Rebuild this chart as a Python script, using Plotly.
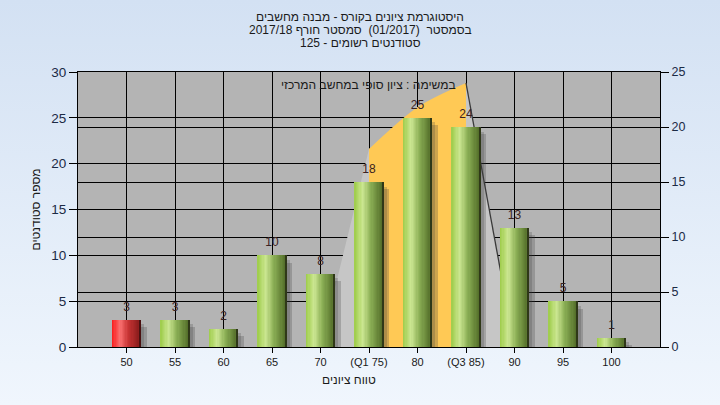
import base64
import plotly.graph_objects as go

# ---------------- data ----------------
categories = ["50", "55", "60", "65", "70", "(Q1 75)", "80", "(Q3 85)", "90", "95", "100"]
counts = [3, 3, 2, 10, 8, 18, 25, 24, 13, 5, 1]
bar_group = ["fail", "pass", "pass", "pass", "pass", "pass", "pass", "pass", "pass", "pass", "pass"]

# Q1..Q3 band drawn on the right-hand axis
band_categories = ["70", "(Q1 75)", "80", "(Q3 85)", "90"]
band_values = [0, 18, 21.8, 24, 0]

left_ticks = [0, 5, 10, 15, 20, 25, 30]
right_ticks = [0, 5, 10, 15, 20, 25]

title_lines = [
    "היסטוגרמת ציונים בקורס - מבנה מחשבים",
    "בסמסטר  (01/2017)  סמסטר חורף 2017/18",
    "סטודנטים רשומים - 125",
]
note_text = "במשימה : ציון סופי במחשב המרכזי"
x_title = "טווח ציונים"
y_title = "מספר סטודנטים"

# ---------------- helpers ----------------
RLE, PDF = "\u202b", "\u202c"


def rtl(s):
    return RLE + s + PDF


def interp(scale, t):
    for (t0, c0), (t1, c1) in zip(scale[:-1], scale[1:]):
        if t0 <= t <= t1:
            f = (t - t0) / (t1 - t0) if t1 > t0 else 0
            c = [round(a + (b - a) * f) for a, b in zip(c0, c1)]
            return "rgb(%d,%d,%d)" % tuple(c)
    return "rgb(%d,%d,%d)" % scale[-1][1]


green_scale = [(0.0, (158, 204, 74)), (0.28, (204, 231, 146)), (0.55, (140, 176, 86)), (1.0, (76, 102, 36))]
red_scale = [(0.0, (250, 28, 28)), (0.28, (250, 112, 112)), (0.55, (200, 52, 52)), (1.0, (128, 24, 24))]
edge_color = {"fail": "#4a1010", "pass": "#2f3818"}

pos = {c: i for i, c in enumerate(categories)}
xpos = [pos[c] for c in categories]
band_x = [pos[c] for c in band_categories]

fig = go.Figure()

# ---- band (base subplot, right axis 0..25) ----
fig.add_trace(go.Scatter(
    x=band_x, y=band_values, mode="lines", fill="toself",
    fillcolor="#c6c6c6", line=dict(width=0), hoverinfo="skip", showlegend=False,
))
fig.add_trace(go.Scatter(
    x=band_x[1:4], y=band_values[1:4], mode="lines", fill="tozeroy",
    fillcolor="#ffc955", line=dict(width=0, shape="spline", smoothing=0.9),
    hoverinfo="skip", showlegend=False,
))
fig.add_trace(go.Scatter(
    x=band_x[3:5], y=band_values[3:5], mode="lines",
    line=dict(width=1.3, color="#3a3a3a"), hoverinfo="skip", showlegend=False,
))

# ---- bar shadows (left axis 0..30) ----
for off, base, col in [(0.12, -0.8, "rgba(60,60,60,0.25)"), (0.07, -0.5, "rgba(60,60,60,0.22)")]:
    fig.add_trace(go.Bar(
        x=xpos, y=counts, base=base, offset=-0.3 + off, width=0.6,
        marker=dict(color=col, line=dict(width=0)), yaxis="y2",
        hoverinfo="skip", showlegend=False,
    ))

# ---- bars with horizontal gradient (stripes) ----
N = 24
W = 0.6 / N
for k in range(N):
    t = (k + 0.5) / N
    cols = [interp(red_scale, t) if g == "fail" else interp(green_scale, t) for g in bar_group]
    fig.add_trace(go.Bar(
        x=xpos, y=counts, offset=-0.3 + k * W, width=min(W * 1.7, 0.6 - k * W),
        marker=dict(color=cols, line=dict(width=0)), yaxis="y2",
        hoverinfo="skip", showlegend=False,
    ))
fig.add_trace(go.Bar(
    x=xpos, y=counts, offset=0.3 - 0.022, width=0.022,
    marker=dict(color=[edge_color[g] for g in bar_group], line=dict(width=0)), yaxis="y2",
    hoverinfo="skip", showlegend=False,
))

# ---- value labels (invisible marker gives a small gap above the bar) ----
fig.add_trace(go.Scatter(
    x=xpos, y=counts, mode="text+markers", text=[str(c) for c in counts],
    marker=dict(size=8, opacity=0),
    textposition="top center", textfont=dict(size=12, color="#3a2222"),
    yaxis="y2", cliponaxis=False, hoverinfo="skip", showlegend=False,
))

# ---------------- layout ----------------
L, R, T, B = 78, 60, 72, 58
PW, PH = 720 - L - R, 405 - T - B

svg = ('<svg xmlns="http://www.w3.org/2000/svg" width="720" height="405" preserveAspectRatio="none">'
       '<defs><linearGradient id="g" x1="0" y1="0" x2="0" y2="1">'
       '<stop offset="0" stop-color="#d3e1f3"/><stop offset="1" stop-color="#f0f6fd"/>'
       '</linearGradient></defs><rect width="720" height="405" fill="url(#g)"/></svg>')
bg_uri = "data:image/svg+xml;base64," + base64.b64encode(svg.encode()).decode()

font_main = "Liberation Sans, Arial, sans-serif"
axis_common = dict(
    showgrid=True, gridcolor="#000000", gridwidth=1, zeroline=False,
    showline=True, linecolor="#000000", linewidth=1,
    ticks="outside", tickcolor="#000000", ticklen=8,
)

annotations = []
for i, line in enumerate(title_lines):
    ypx = 17 + 13 * i
    annotations.append(dict(
        text=rtl(line), xref="paper", yref="paper", x=(360 - L) / PW, y=1 + (T - ypx) / PH,
        xanchor="center", yanchor="middle", showarrow=False,
        font=dict(size=12, color="#1a1a1a", family=font_main),
    ))
annotations.append(dict(
    text=rtl(note_text), xref="paper", yref="paper", x=(368 - L) / PW, y=1 - (85 - T) / PH,
    xanchor="center", yanchor="middle", showarrow=False,
    font=dict(size=12, color="#1a1a1a", family=font_main),
))
annotations.append(dict(
    text=rtl(x_title), xref="paper", yref="paper", x=(349 - L) / PW, y=1 - (380 - T) / PH,
    xanchor="center", yanchor="middle", showarrow=False,
    font=dict(size=12, color="#1a1a1a", family=font_main),
))
annotations.append(dict(
    text=rtl(y_title), xref="paper", yref="paper", x=(35 - L) / PW, y=0.5,
    xanchor="center", yanchor="middle", showarrow=False, textangle=-90,
    font=dict(size=12, color="#1a1a1a", family=font_main),
))

fig.update_layout(
    width=720, height=405,
    margin=dict(l=L, r=R, t=T, b=B),
    paper_bgcolor="#e2ecf8",
    plot_bgcolor="rgba(0,0,0,0)",
    barmode="overlay", bargap=0,
    showlegend=False,
    font=dict(family=font_main, color="#1b2a45"),
    images=[dict(
        source=bg_uri, xref="paper", yref="paper", x=-L / PW, y=1 + T / PH,
        sizex=720 / PW, sizey=405 / PH, xanchor="left", yanchor="top",
        sizing="stretch", layer="below",
    )],
    shapes=[dict(
        type="rect", xref="paper", yref="paper", x0=0, x1=1, y0=0, y1=1,
        fillcolor="#b4b4b4", line=dict(width=0), layer="below",
    )],
    xaxis=dict(
        range=[-1, len(categories)], tickmode="array", tickvals=xpos, ticktext=categories,
        mirror=True, tickfont=dict(size=11, color="#1a1a1a"),
        **{**axis_common, "ticklen": 5},
    ),
    yaxis=dict(
        range=[0, 25], side="right", tickmode="array", tickvals=right_ticks,
        tickfont=dict(size=12.5, color="#1b2a45"), **axis_common,
    ),
    yaxis2=dict(
        range=[0, 30], side="left", overlaying="y", tickmode="array", tickvals=left_ticks,
        tickfont=dict(size=13.5, color="#1b2a45"), **axis_common,
    ),
    annotations=annotations,
)

fig.write_html(
    "out.html",
    config={"displayModeBar": False},
    post_script="document.body.style.margin='0';document.body.style.overflow='hidden';",
)
